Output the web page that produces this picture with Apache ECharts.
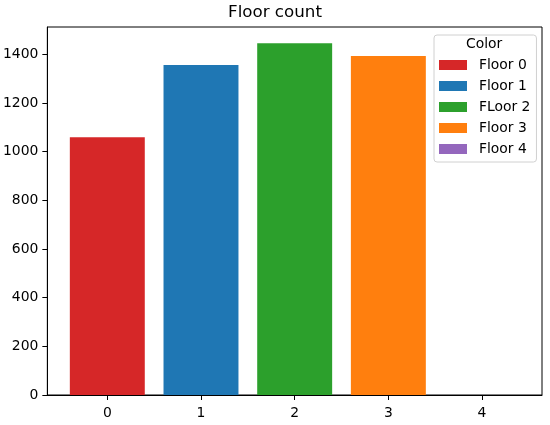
<!DOCTYPE html>
<html>
<head>
<meta charset="utf-8">
<script src="https://cdn.jsdelivr.net/npm/echarts@6/dist/echarts.min.js"></script>
<style>html,body{margin:0;padding:0;background:#fff}#c{width:550px;height:425px}</style>
</head>
<body>
<div id="c"></div>
<script>
const categories = [0, 1, 2, 3, 4];
const seriesNames = ['Floor 0', 'Floor 1', 'FLoor 2', 'Floor 3', 'Floor 4'];
const values = [1059, 1356, 1445, 1393, 0];
const colors = ['#d62728', '#1f77b4', '#2ca02c', '#ff7f0e', '#9467bd'];
const yTicks = [0, 200, 400, 600, 800, 1000, 1200, 1400];

const FONT = 'DejaVu Sans';
const chart = echarts.init(document.getElementById('c'), null, {renderer: 'canvas'});

const series = seriesNames.map((name, i) => ({
  name: name,
  type: 'bar',
  data: [[categories[i], values[i]]],
  barWidth: '80%',
  barGap: '-100%',
  itemStyle: {color: colors[i]},
  emphasis: {disabled: true},
  animation: false
}));

chart.setOption({
  animation: false,
  grid: {left: 47, right: 8, top: 27, bottom: 30, show: true, borderColor: '#000', borderWidth: 1, backgroundColor: 'transparent'},
  xAxis: {
    type: 'value', min: -0.64, max: 4.64,
    axisLine: {show: true, onZero: false, lineStyle: {color: '#000', width: 1}},
    splitLine: {show: false},
    axisTick: {show: true, length: 5, lineStyle: {color: '#000'}, customValues: categories},
    axisLabel: {color: '#000', fontFamily: FONT, fontSize: 13.9, margin: 11, customValues: categories, formatter: v => String(v)}
  },
  yAxis: {
    type: 'value', min: 0, max: 1512,
    axisLine: {show: true, onZero: false, lineStyle: {color: '#000', width: 1}},
    splitLine: {show: false},
    axisTick: {show: true, length: 5, lineStyle: {color: '#000'}, customValues: yTicks},
    axisLabel: {color: '#000', fontFamily: FONT, fontSize: 13.9, margin: 9, customValues: yTicks, formatter: v => String(v)}
  },
  legend: {
    orient: 'vertical', left: 434, top: 35,
    data: seriesNames,
    itemWidth: 28, itemHeight: 10, itemGap: 7,
    icon: 'rect',
    padding: [23, 6, 6, 5],
    backgroundColor: 'rgba(255,255,255,0.8)',
    borderColor: '#d0d0d0', borderWidth: 1, borderRadius: 3,
    textStyle: {color: '#000', fontFamily: FONT, fontSize: 13.9, padding: [0, 0, 0, 7]},
    selectedMode: false
  },
  graphic: [
    {type: 'text', left: 'center', top: 4, style: {text: 'Floor count', fill: '#000', font: '16.7px "DejaVu Sans"'}},
    {type: 'text', left: 466, top: 37, style: {text: 'Color', fill: '#000', font: '13.9px "DejaVu Sans"'}, z: 100}
  ],
  series: series
});
</script>
</body>
</html>
